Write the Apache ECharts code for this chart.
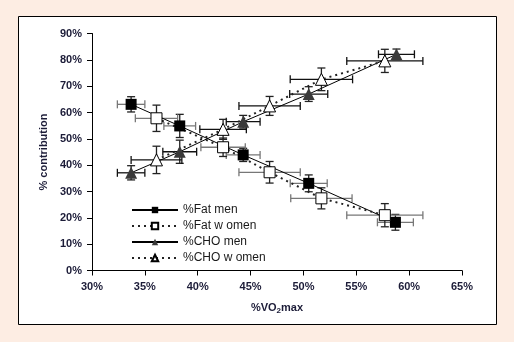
<!DOCTYPE html>
<html><head><meta charset="utf-8">
<script src="https://cdn.jsdelivr.net/npm/echarts@6/dist/echarts.min.js"></script>
<style>html,body{margin:0;padding:0;background:#fdede3;} #c{width:514px;height:342px;}</style>
</head><body><div id="c"></div>
<script>
const legendNames = ['%Fat men', '%Fat w omen', '%CHO men', '%CHO w omen'];
const xTickMin = 30, xTickMax = 65, xTickStep = 5;
const yTickMin = 0, yTickMax = 90, yTickStep = 10;

const fatMenX = [33.7, 38.3, 44.3, 50.5, 58.7];
const fatMenY = [63.1, 54.9, 43.9, 33.1, 18.3];
const fatMenXErr = [1.3, 1.5, 1.6, 1.75, 1.7];
const fatMenYErr = [2.9, 4.4, 2.5, 3.2, 3.0];

const fatWomenX = [36.1, 42.4, 46.8, 51.7, 57.7];
const fatWomenY = [57.8, 46.8, 37.3, 27.4, 21.0];
const fatWomenXErr = [2.0, 2.1, 2.9, 2.9, 3.6];
const fatWomenYErr = [5.0, 3.5, 4.1, 4.0, 4.4];

const choMenX = [33.7, 38.3, 44.3, 50.5, 58.8];
const choMenY = [37.1, 45.1, 56.5, 67.0, 82.1];
const choMenXErr = [1.3, 1.6, 1.6, 1.8, 1.7];
const choMenYErr = [2.7, 4.4, 2.4, 2.8, 2.0];

const choWomenX = [36.1, 42.4, 46.8, 51.7, 57.7];
const choWomenY = [42.0, 53.6, 62.5, 72.6, 79.6];
const choWomenXErr = [2.4, 2.2, 2.9, 2.95, 3.6];
const choWomenYErr = [5.2, 3.8, 3.6, 4.3, 4.4];

function pts(xs, ys){ return xs.map((x,i)=>[x, ys[i]]); }

function errBars(name, xs, ys, xe, ye, colX, colY){
  const data = xs.map((x,i)=>[x, ys[i], xe[i], ye[i]]);
  return {
    type:'custom', name:name+'_err', z:1, silent:true, data:data,
    encode:{x:0, y:1},
    renderItem:function(params, api){
      const x=api.value(0), y=api.value(1), dx=api.value(2), dy=api.value(3);
      const c=api.coord([x,y]);
      const l=api.coord([x-dx,y]), r=api.coord([x+dx,y]);
      const t=api.coord([x,y+dy]), b=api.coord([x,y-dy]);
      const cap=4;
      const sx={stroke:colX, lineWidth:1.3};
      const sy={stroke:colY, lineWidth:1.3};
      return {type:'group', children:[
        {type:'line', shape:{x1:l[0],y1:c[1],x2:r[0],y2:c[1]}, style:sx},
        {type:'line', shape:{x1:l[0],y1:c[1]-cap,x2:l[0],y2:c[1]+cap}, style:sx},
        {type:'line', shape:{x1:r[0],y1:c[1]-cap,x2:r[0],y2:c[1]+cap}, style:sx},
        {type:'line', shape:{x1:c[0],y1:t[1],x2:c[0],y2:b[1]}, style:sy},
        {type:'line', shape:{x1:c[0]-cap,y1:t[1],x2:c[0]+cap,y2:t[1]}, style:sy},
        {type:'line', shape:{x1:c[0]-cap,y1:b[1],x2:c[0]+cap,y2:b[1]}, style:sy}
      ]};
    }
  };
}

const labelColor = '#1c1c38';
const chart = echarts.init(document.getElementById('c'), null, {renderer:'canvas'});
chart.setOption({
  backgroundColor:'transparent',
  animation:false,
  graphic:{elements:[{type:'rect', z:-100, silent:true,
    shape:{x:18.5, y:16.5, width:478, height:308},
    style:{fill:'#ffffff', stroke:'#000000', lineWidth:1}}]},
  grid:{left:92, right:52, top:33.5, bottom:71.5},
  legend:{
    data:legendNames, orient:'vertical', left:126, top:199,
    itemWidth:46, itemHeight:8, itemGap:4,
    textStyle:{fontFamily:'Arial, Liberation Sans', fontSize:12, color:'#1a1a1a'}
  },
  xAxis:{
    type:'value', min:xTickMin, max:xTickMax, interval:xTickStep,
    axisLine:{lineStyle:{color:'#000', width:1}},
    axisTick:{show:true, length:5, lineStyle:{color:'#000'}},
    splitLine:{show:false},
    axisLabel:{formatter:'{value}%', fontFamily:'Arial, Liberation Sans', fontWeight:'bold', fontSize:11, color:labelColor, margin:11},
    name:'%VO{sub|2}max', nameLocation:'middle', nameGap:30,
    nameTextStyle:{fontFamily:'Arial, Liberation Sans', fontWeight:'bold', fontSize:11, color:labelColor,
      rich:{sub:{fontFamily:'Arial, Liberation Sans', fontWeight:'bold', fontSize:8, color:labelColor, verticalAlign:'bottom', padding:[6,0,0,0]}}}
  },
  yAxis:{
    type:'value', min:yTickMin, max:yTickMax, interval:yTickStep,
    axisLine:{show:true, lineStyle:{color:'#000', width:1}},
    axisTick:{show:true, length:5, lineStyle:{color:'#000'}},
    splitLine:{show:false},
    axisLabel:{formatter:'{value}%', fontFamily:'Arial, Liberation Sans', fontWeight:'bold', fontSize:11, color:labelColor, margin:10},
    name:'% contribution', nameLocation:'middle', nameGap:43,
    nameTextStyle:{fontFamily:'Arial, Liberation Sans', fontWeight:'bold', fontSize:11, color:labelColor}
  },
  series:[
    errBars('fm', fatMenX, fatMenY, fatMenXErr, fatMenYErr, '#777777', '#222222'),
    errBars('fw', fatWomenX, fatWomenY, fatWomenXErr, fatWomenYErr, '#777777', '#222222'),
    errBars('cm', choMenX, choMenY, choMenXErr, choMenYErr, '#111111', '#222222'),
    errBars('cw', choWomenX, choWomenY, choWomenXErr, choWomenYErr, '#111111', '#222222'),
    {type:'line', name:legendNames[0], data:pts(fatMenX, fatMenY), z:3,
      symbol:'rect', symbolSize:11, lineStyle:{color:'#000', width:1},
      itemStyle:{color:'#000', borderColor:'#000', borderWidth:0}},
    {type:'line', name:legendNames[1], data:pts(fatWomenX, fatWomenY), z:3,
      symbol:'rect', symbolSize:11, lineStyle:{color:'#222', width:2, type:[2,4]},
      itemStyle:{color:'#fff', borderColor:'#000', borderWidth:1}},
    {type:'line', name:legendNames[2], data:pts(choMenX, choMenY), z:3,
      symbol:'triangle', symbolSize:12, lineStyle:{color:'#000', width:1},
      itemStyle:{color:'#3a3a3a', borderColor:'#3a3a3a', borderWidth:0}},
    {type:'line', name:legendNames[3], data:pts(choWomenX, choWomenY), z:3,
      symbol:'triangle', symbolSize:12, lineStyle:{color:'#222', width:2, type:[2,4]},
      itemStyle:{color:'#fff', borderColor:'#000', borderWidth:1}}
  ]
});
</script>
</body></html>
